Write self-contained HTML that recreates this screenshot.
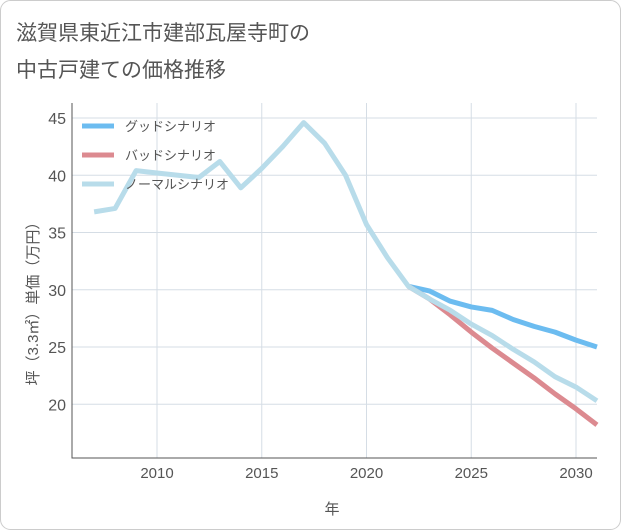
<!DOCTYPE html>
<html><head><meta charset="utf-8"><style>
body{margin:0;background:#fff;}
svg{display:block;font-family:"Liberation Sans","Noto Sans CJK JP",sans-serif;}
</style></head><body>
<svg id="c" width="621" height="530">
<rect x="0.5" y="0.5" width="620" height="529" rx="10" fill="#fff" stroke="#ccc"/>
<text x="16" y="40" font-size="21" fill="#555">滋賀県東近江市建部瓦屋寺町の</text>
<text x="16" y="77" font-size="21" fill="#555">中古戸建ての価格推移</text>
<g id="grid"></g><g id="series"></g><g id="legend"></g>
<text x="332" y="514" font-size="15" fill="#555" text-anchor="middle">年</text>
<text transform="translate(38,300) rotate(-90)" font-size="15" fill="#555" text-anchor="middle">坪（3.3㎡）単価（万円）</text>
</svg>
<script>
const years=[2007,2008,2009,2010,2011,2012,2013,2014,2015,2016,2017,2018,2019,2020,2021,2022,2023,2024,2025,2026,2027,2028,2029,2030,2031];
const normalVals=[36.8,37.1,40.4,40.2,40.0,39.8,41.2,38.9,40.6,42.5,44.6,42.8,40.0,35.7,32.8,30.3,29.2,28.2,27.0,26.0,24.8,23.7,22.4,21.5,20.3];
const futureYears=[2022,2023,2024,2025,2026,2027,2028,2029,2030,2031];
const goodVals=[30.3,29.9,29.0,28.5,28.2,27.4,26.8,26.3,25.6,25.0];
const badVals=[30.3,29.2,27.8,26.3,24.9,23.6,22.3,20.9,19.6,18.2];
const xTicks=[2010,2015,2020,2025,2030];
const yTicks=[20,25,30,35,40,45];
const L=72,R=597,T=103,B=458;
const x=v=>157+(v-2010)*20.95;
const y=v=>118+(45-v)*11.45;
const NS="http://www.w3.org/2000/svg";
function mk(p,t,a){const e=document.createElementNS(NS,t);for(const k in a)e.setAttribute(k,a[k]);p.appendChild(e);return e;}
const g=document.getElementById('grid');
const fr=mk(g,'rect',{x:L,y:T,width:R-L,height:B-T,fill:'none',stroke:'none'});
xTicks.forEach(t=>{const l=mk(g,'line',{x1:x(t),x2:x(t),y1:T,y2:B,stroke:'#d5dde5'});


const tx=mk(g,'text',{x:x(t),y:B+20,'font-size':15,fill:'#555','text-anchor':'middle'});tx.textContent=t;

});
yTicks.forEach(t=>{const l=mk(g,'line',{x1:L,x2:R,y1:y(t),y2:y(t),stroke:'#d5dde5'});


const tx=mk(g,'text',{x:L-6,y:y(t)+6,'font-size':16,fill:'#555','text-anchor':'end'});tx.textContent=t;

});
const ax=mk(g,'path',{d:`M${L} ${T}V${B}H${R}`,fill:'none',stroke:'#555'});


const s=document.getElementById('series');
function line(xs,vs,c,n){const p=mk(s,'polyline',{points:xs.map((v,i)=>x(v)+','+y(vs[i])).join(' '),fill:'none',stroke:c,'stroke-width':5,'stroke-linejoin':'round'});

}
line(futureYears,goodVals,'#6cbcf0','good-scenario-line');
line(futureYears,badVals,'#dc8a90','bad-scenario-line');
line(years,normalVals,'#b8dcea','normal-scenario-line');
const lg=document.getElementById('legend');
[['グッドシナリオ','#6cbcf0'],['バッドシナリオ','#dc8a90'],['ノーマルシナリオ','#b8dcea']].forEach((d,i)=>{
const yy=126+i*29;
const l=mk(lg,'line',{x1:82,x2:114,y1:yy,y2:yy,stroke:d[1],'stroke-width':5});


const t=mk(lg,'text',{x:125,y:yy+5,'font-size':13,fill:'#555'});t.textContent=d[0];

});
</script>
</body></html>
